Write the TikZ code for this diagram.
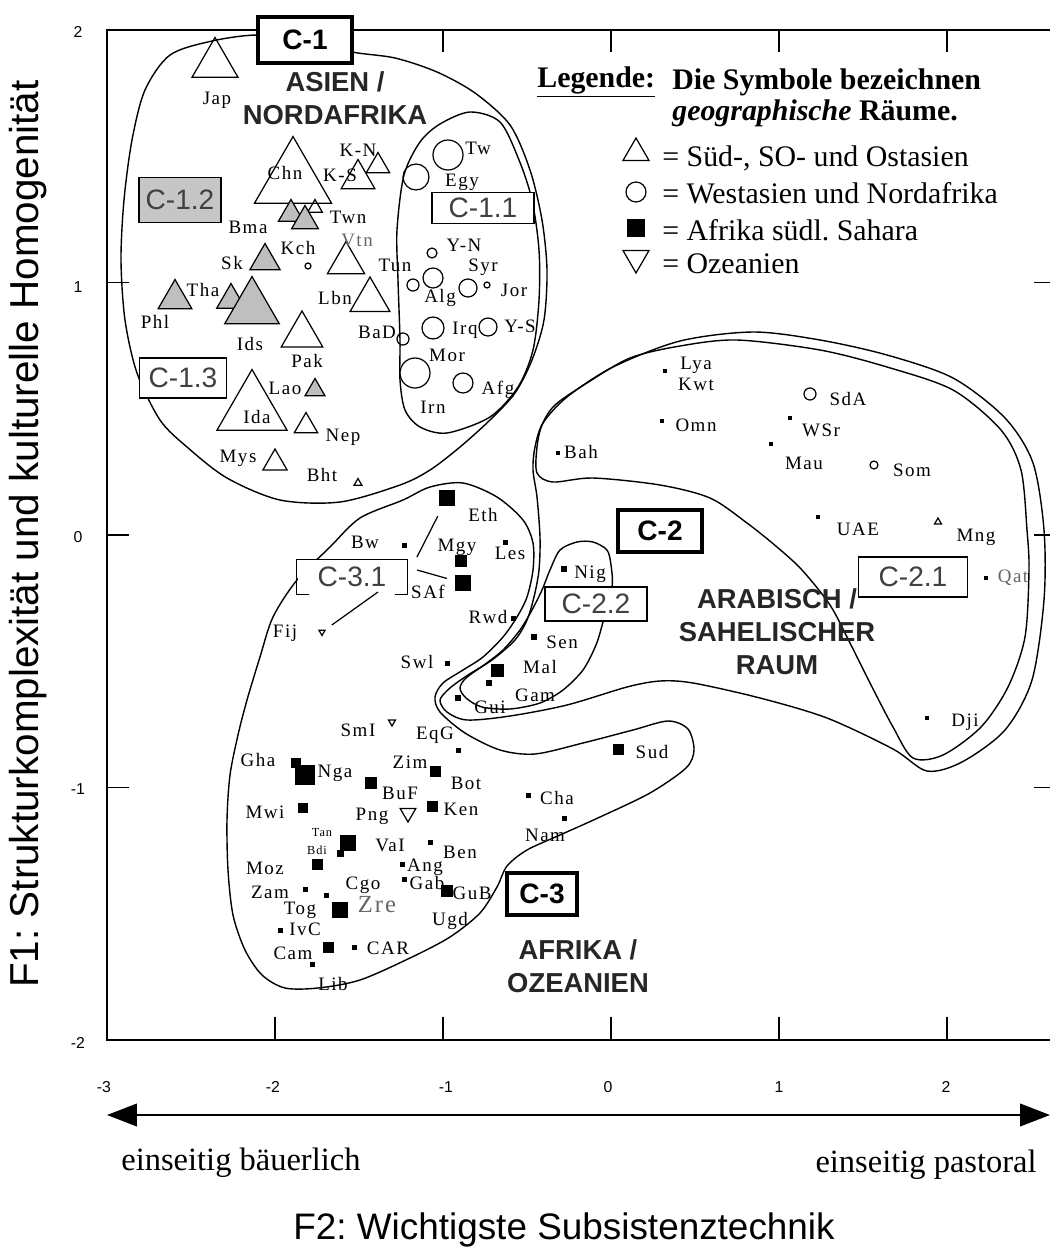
\documentclass[tikz,border=0pt]{standalone}
\usepackage{fontspec}
\setmainfont{Liberation Serif}
\setsansfont{Liberation Sans}
\newfontfamily\lblfont[LetterSpace=8]{Liberation Serif}
\usetikzlibrary{shapes.geometric,arrows.meta}
\frenchspacing

\begin{document}
\begin{tikzpicture}[
  x=0.02cm,y=-0.02cm,
  outline/.style={line width=0.8pt},
  frame/.style={line width=1.2pt},
  tick/.style={line width=0.8pt},
  cbox/.style={draw, fill=white, line width=1.8pt, inner sep=0pt, font=\sffamily\fontsize{16}{16}\selectfont\bfseries},
  sbox/.style={draw, fill=white, line width=0.8pt, inner sep=0pt, text=black!75, font=\sffamily\fontsize{16}{16}\selectfont},
  region/.style={align=center, text=black!85, font=\sffamily\bfseries\fontsize{15.6}{18.7}\selectfont},
  lbl/.style={inner sep=0pt, font=\lblfont\fontsize{10.8}{10.8}\selectfont},
  tinylbl/.style={inner sep=0pt, font=\lblfont\fontsize{7}{7}\selectfont},
  ticklbl/.style={inner sep=0pt, font=\sffamily\fontsize{9}{9}\selectfont},
  legtext/.style={anchor=west, inner sep=0pt, font=\fontsize{17}{17}\selectfont},
  tri/.style={regular polygon, regular polygon sides=3, draw, inner sep=0pt, line width=0.7pt},
  gtri/.style={tri, fill=gray!50},
  dtri/.style={tri, shape border rotate=180},
  circ/.style={circle, draw, inner sep=0pt, line width=0.7pt},
  sq/.style={rectangle, fill=black, inner sep=0pt},
  link/.style={line width=0.7pt}
]
\clip (0,0) rectangle (1050,1248);

\draw[frame] (107,30) rectangle (1056,1040);
\foreach \x in {275,443,611,779,947} {
  \draw[tick] (\x,30) -- (\x,52);
  \draw[tick] (\x,1040) -- (\x,1017);
}
\foreach \y in {282.5,535,787.5} {
  \draw[tick] (107,\y) -- (129,\y);
  \draw[tick] (1056,\y) -- (1034,\y);
}
\foreach \v/\y in {2/32,1/287,0/537,-1/789,-2/1043}
  \node[ticklbl] (y\v) at (78,\y) {\v};
\foreach \v/\x in {-3/104,-2/273,-1/446,0/608,1/779,2/946}
  \node[ticklbl] (x\v) at (\x,1087) {\v};

\coordinate (arrL) at (107,1115);
\coordinate (arrR) at (1050,1115);
\draw[line width=1.4pt, {Triangle[length=0.6cm,width=0.45cm]}-{Triangle[length=0.6cm,width=0.45cm]}] (arrL) -- (arrR);
\node[font=\fontsize{18.5}{18.5}\selectfont, anchor=west, inner sep=0pt] (baeuer) at (121,1163) {einseitig bäuerlich};
\node[font=\fontsize{18.5}{18.5}\selectfont, anchor=east, inner sep=0pt] (pastor) at (1037,1165) {einseitig pastoral};
\node[font=\sffamily\fontsize{21}{21}\selectfont] (xtitle) at (564,1230) {F2: Wichtigste Subsistenztechnik};
\node[font=\sffamily\fontsize{23}{23}\selectfont, rotate=90] (ytitle) at (28,534) {F1: Strukturkomplexität und kulturelle Homogenität};

% cluster outlines
\draw[outline] plot[smooth cycle] coordinates {(257,35) (212,41) (170,55) (145,90) (132,140) (124,200) (121,260) (125,320) (137,373) (160,420) (187,447) (227,478) (280,500) (340,502) (400,485) (430,470) (460,447) (490,420) (515,393) (532,360) (544,320) (547,270) (542,220) (530,170) (510,125) (475,93) (437,72) (395,58) (352,52) (305,40)};
\draw[outline] plot[smooth cycle] coordinates {(440,124) (420,142) (404,175) (397,230) (398,280) (400,340) (400,380) (405,410) (420,427) (447,433) (490,417) (518,387) (533,350) (539,300) (539,250) (532,200) (519,160) (500,122) (470,112)};
\draw[outline] plot[smooth cycle] coordinates {(535,447) (543,423) (567,397) (613,367) (680,341) (753,332) (820,340) (887,355) (953,378) (1005,418) (1033,463) (1044,530) (1044,600) (1032,680) (1005,730) (962,762) (927,771) (893,749) (827,718) (760,698) (693,683) (660,681) (627,687) (567,705) (510,716) (467,720) (447,712) (440,700) (450,688) (468,675) (492,660) (515,640) (527,620) (534,597) (539,570) (540,537) (537,497) (533,470)};
\draw[outline] plot[smooth cycle] coordinates {(537,473) (537,447) (542,425) (555,405) (587,383) (630,358) (680,346) (737,340) (820,350) (887,367) (953,390) (1001,430) (1021,470) (1027,530) (1029,570) (1025,637) (1008,687) (981,727) (943,755) (913,758) (893,727) (870,683) (850,643) (830,605) (802,570) (777,547) (747,523) (710,498) (660,485) (593,478) (553,482)};
\draw[outline] plot[smooth cycle] coordinates {(550,570) (560,550) (577,542) (593,542) (607,550) (611,565) (612,587) (603,622) (596,645) (583,670) (563,690) (540,703) (510,709) (482,707) (466,698) (460,688) (466,678) (484,665) (503,650) (520,630) (532,610) (542,590)};
\draw[outline] plot[smooth cycle] coordinates {(247,700) (260,657) (273,617) (297,580) (330,547) (360,518) (403,500) (430,487) (463,483) (497,497) (523,520) (533,543) (533,570) (527,597) (517,617) (503,637) (483,657) (463,670) (443,683) (435,697) (440,712) (465,733) (500,750) (535,754) (583,743) (633,730) (668,721) (688,729) (694,750) (686,768) (650,793) (600,817) (560,835) (527,850) (507,866) (497,887) (480,913) (450,937) (410,958) (360,980) (318,988) (285,988) (262,975) (245,950) (233,915) (228,870) (227,820) (230,775) (238,735)};

% markers
\foreach \n/\x/\y/\s in {Jap/215/64/53, Chn/293/181/89, KN/378/166/27, KS/358/179/39, Twn/315/208/17,
    Kch/346/263/43, Lbn/370/300/46, Pak/302/335/48, Ida/252/410/81, Nep/306/426/27,
    Mys/275/463/28, Bht/358/483/9, Mng/938/522/8}
  \node[tri, minimum size=\s*0.02cm] (\n) at (\x,\y) {};
\foreach \n/\x/\y/\s in {Bma/291/214/29, Vtn/305/221/31, Sk/265/261/35, Phl/175/299/39,
    Tha/231/300/33, Ids/252/308/63, Lao/315/390/23}
  \node[gtri, minimum size=\s*0.02cm] (\n) at (\x,\y) {};
\foreach \n/\x/\y/\s in {Fij/322/632/7, SmI/392/722/8, Png/408/813/18}
  \node[dtri, minimum size=\s*0.02cm] (\n) at (\x,\y) {};
\foreach \n/\x/\y/\r in {Tur/448/155/15, Egy/416/177/13, Kci/308/266/3, YN/432/253/5, Tun/413/285/6,
    Alg/433/278/10, Syr/468/288/9, Jor/487/285/3, Irq/433/328/11, YS/488/327/9,
    BaD/403/339/6, Mor/415/373/15, Afg/463/383/10, SdA/810/394/6, Som/874/465/4}
  \node[circ, minimum size=2*\r*0.02cm] (\n) at (\x,\y) {};
\foreach \n/\x/\y/\s in {Eth/447/498/16, Bur/404/545/5, Mgy/461/561/12, Les/505/542/5, SAf/463/583/16,
    Rwd/513/618/5, Nig/564/569/6, Sen/534/637/6, Swl/447/663/5, Mal/497/670/13,
    Gam/489/683/6, Gui/458/698/6, EqG/458/750/5, Gha/296/763/10, Nga/305/775/20,
    Zim/435/771/11, BuF/371/783/12, Mwi/303/808/10, Ken/432/806/11, Tan/348/843/16,
    Bdi/340/853/7, Ben/430/842/5, Moz/317/864/11, Ang/402/864/5, Gab/404/879/5,
    GuB/447/891/12, Zam/305/889/5, Cgo/326/895/5, Zre/340/910/16, IvC/280/930/5,
    Cam/328/947/11, CAR/354/947/5, Lib/312/964/5, Sud/618/749/11, Cha/528/795/5,
    Nam/564/818/5, Bah/558/453/4, Lya/665/371/4, Omn/662/421/4, WSr/790/418/4,
    Mau/771/444/4, UAE/818/517/4, Qat/986/578/4, Dji/927/718/4}
  \node[sq, minimum size=\s*0.02cm] (\n) at (\x,\y) {};

% labels
\foreach \t/\x/\y in {Jap/217/100, Chn/285/173, K-N/358/150, K-S/340/175, Twn/348/217, Bma/248/227,
    Kch/298/248, Sk/232/263, Tun/395/265, Tha/203/290, Phl/155/322, Lbn/335/298,
    Ids/250/344, Pak/307/361, BaD/377/332, Lao/285/388, Ida/257/417, Nep/343/437,
    Mys/238/458, Bht/322/475, Tw/478/148, Egy/462/182, Y-N/464/245, Syr/483/267,
    Alg/440/298, Jor/514/290, Irq/465/330, Y-S/520/326, Mor/447/355, Afg/498/390,
    Irn/433/407, Bah/581/452, Lya/696/365, Kwt/696/384, SdA/848/399, Omn/696/425,
    WSr/821/430, Mau/804/463, Som/912/470, UAE/858/529, Mng/976/537, Dji/965/722,
    Nig/590/574, Sen/562/642, Mal/540/667, Gam/535/695, Gui/490/707, Sud/652/752,
    Eth/483/515, Bw/365/542, Mgy/457/547, Les/510/553, SAf/428/592, Rwd/488/617,
    Fij/285/633, Swl/417/662, SmI/358/730, EqG/435/735, Gha/258/760, Nga/335/773,
    Zim/410/762, BuF/400/793, Bot/466/783, Mwi/265/812, Png/372/816, Ken/461/809,
    VaI/390/845, Ben/460/852, Moz/265/868, Ang/425/867, Gab/427/883, GuB/472/893,
    Zam/270/892, Cgo/363/885, Tog/300/910, IvC/305/929, Cam/293/953, CAR/388/948,
    Lib/333/984, Ugd/450/921, Cha/557/798, Nam/545/835}
  \node[lbl] (l\t) at (\x,\y) {\t};
\node[lbl, text=black!60] (lVtn) at (357,240) {Vtn};
\node[lbl, text=black!60] (lQat) at (1013,578) {Qat};
\node[lbl, text=black!60, font=\lblfont\fontsize{14}{14}\selectfont] (lZre) at (377,905) {Zre};
\node[tinylbl] (lTan) at (322,833) {Tan};
\node[tinylbl] (lBdi) at (317,850) {Bdi};

\node[region] (asien) at (335,98) {ASIEN /\\NORDAFRIKA};
\node[region] (arab) at (777,632) {ARABISCH /\\SAHELISCHER\\RAUM};
\node[region] (afri) at (578,966) {AFRIKA /\\OZEANIEN};

% cluster boxes
\node[cbox, minimum width=94*0.02cm, minimum height=46*0.02cm] (C1) at (305,40) {C-1};
\node[cbox, minimum width=84*0.02cm, minimum height=42*0.02cm] (C2) at (660,531) {C-2};
\node[cbox, minimum width=70*0.02cm, minimum height=42*0.02cm] (C3) at (542,894) {C-3};
\node[sbox, fill=gray!45, minimum width=82*0.02cm, minimum height=45*0.02cm] (C12) at (180,200) {C-1.2};
\node[sbox, minimum width=102*0.02cm, minimum height=31*0.02cm] (C11) at (483,208) {C-1.1};
\node[sbox, minimum width=87*0.02cm, minimum height=40*0.02cm] (C13) at (183,378) {C-1.3};
\node[sbox, minimum width=109*0.02cm, minimum height=40*0.02cm] (C21) at (913,577) {C-2.1};
\node[sbox, minimum width=102*0.02cm, minimum height=34*0.02cm] (C22) at (596,604) {C-2.2};
\node[sbox, draw=none, minimum width=109*0.02cm, minimum height=34*0.02cm] (C31) at (352,577) {C-3.1};
\draw[link] ([xshift=0.25cm]C31.south west) -- (C31.south west) -- (C31.north west) -- (C31.north east) -- (C31.south east) -- ([xshift=-0.25cm]C31.south east);

\coordinate (c31a) at (417,557);
\coordinate (c31b) at (417,570);
\coordinate (c31c) at (378,592);
\draw[link, shorten >=0.22cm] (c31a) -- (Eth);
\draw[link, shorten >=0.16cm] (c31b) -- (SAf);
\draw[link, shorten >=0.16cm] (c31c) -- (Fij);

% legend
\node[legtext, font=\bfseries\fontsize{17}{17}\selectfont] (leghead) at (537,82) {\underline{Legende:}};
\node[legtext, font=\bfseries\fontsize{17}{17}\selectfont] (legdie) at (672,82) {Die Symbole bezeichnen};
\node[legtext, font=\bfseries\fontsize{17}{17}\selectfont] (leggeo) at (672,113) {\textit{geographische} Räume.};
\node[tri, minimum size=30*0.02cm] (legtri) at (636,153) {};
\node[circ, minimum size=20*0.02cm] (legcirc) at (636,192) {};
\node[sq, minimum size=18*0.02cm] (legsq) at (636,228) {};
\node[dtri, minimum size=30*0.02cm] (legdtri) at (636,258) {};
\node[legtext] (legA) at (662,158) {= Süd-, SO- und Ostasien};
\node[legtext] (legB) at (662,193) {= Westasien und Nordafrika};
\node[legtext] (legC) at (662,230) {= Afrika südl. Sahara};
\node[legtext] (legD) at (662,264) {= Ozeanien};
\end{tikzpicture}
\end{document}
